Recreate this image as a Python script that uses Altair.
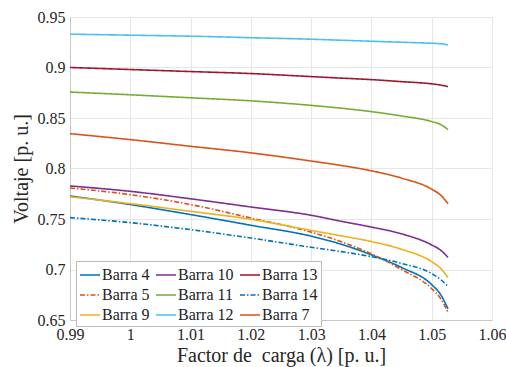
import altair as alt
import pandas as pd

lam = [0.99, 1.00, 1.01, 1.02, 1.03, 1.035, 1.04, 1.045, 1.05, 1.0515, 1.0527]

barra4 = [0.7728, 0.7643, 0.7544, 0.7438, 0.733, 0.725, 0.7145, 0.702, 0.685, 0.675, 0.661]
barra10 = [0.7827, 0.7774, 0.770, 0.7619, 0.7537, 0.7477, 0.742, 0.7353, 0.7243, 0.719, 0.712]
barra13 = [0.900, 0.898, 0.896, 0.894, 0.891, 0.8895, 0.888, 0.886, 0.8838, 0.8826, 0.881]
barra5 = [0.7807, 0.7741, 0.7643, 0.751, 0.737, 0.7275, 0.7155, 0.700, 0.681, 0.671, 0.6577]
barra11 = [0.8757, 0.873, 0.870, 0.867, 0.8625, 0.8597, 0.8563, 0.852, 0.8465, 0.8435, 0.8385]
barra14 = [0.7514, 0.7464, 0.7395, 0.7312, 0.722, 0.7177, 0.7127, 0.706, 0.696, 0.690, 0.6833]
barra9 = [0.772, 0.7652, 0.7576, 0.7497, 0.7387, 0.7333, 0.7277, 0.720, 0.7077, 0.701, 0.692]
barra12 = [0.933, 0.932, 0.931, 0.9295, 0.928, 0.927, 0.926, 0.925, 0.924, 0.9235, 0.9225]
barra7 = [0.8345, 0.8286, 0.822, 0.8155, 0.8074, 0.803, 0.7977, 0.7905, 0.7795, 0.7735, 0.7652]

# legend is laid out column by column: columns (4,5,9), (10,11,12), (13,14,7)
names = ["Barra 4", "Barra 5", "Barra 9", "Barra 10", "Barra 11",
         "Barra 12", "Barra 13", "Barra 14", "Barra 7"]
series = [barra4, barra5, barra9, barra10, barra11, barra12, barra13, barra14, barra7]
colors = ["#0072BD", "#D95319", "#EDB120", "#7E2F8E", "#77AC30",
          "#4DBEEE", "#A2142F", "#0072BD", "#D95319"]
dashes = [[1, 0], [5, 2, 1.5, 2], [1, 0], [1, 0], [1, 0],
          [1, 0], [1, 0], [5, 2, 1.5, 2], [1, 0]]

rows = []
for n, s in zip(names, series):
    for x, y in zip(lam, s):
        rows.append({"lam": x, "v": y, "serie": n})
df = pd.DataFrame(rows)

FONT = "Liberation Serif"

chart = alt.Chart(df).mark_line(strokeWidth=1.6, interpolate="monotone", clip=True).encode(
    x=alt.X("lam:Q", scale=alt.Scale(domain=[0.99, 1.06], nice=False, zero=False),
            axis=alt.Axis(title="Factor de\u00a0 carga (λ) [p. u.]",
                          values=[0.99, 1.0, 1.01, 1.02, 1.03, 1.04, 1.05, 1.06],
                          labelFont=FONT, titleFont=FONT, labelFlush=False,
                          labelPadding=6,
                          labelExpr="datum.value == 1 ? '1' : format(datum.value, '.2~f')")),
    y=alt.Y("v:Q", scale=alt.Scale(domain=[0.65, 0.95], nice=False, zero=False),
            axis=alt.Axis(title="Voltaje [p. u.]",
                          values=[0.65, 0.7, 0.75, 0.8, 0.85, 0.9, 0.95],
                          labelFont=FONT, titleFont=FONT, labelFlush=False,
                          labelPadding=5,
                          labelExpr="format(datum.value, '.2~f')")),
    color=alt.Color("serie:N", scale=alt.Scale(domain=names, range=colors),
                    legend=alt.Legend(title=None, orient="none", legendX=6, legendY=244,
                                      columns=3, symbolType="stroke", symbolSize=400,
                                      symbolStrokeWidth=1.6, labelFont=FONT,
                                      labelFontSize=16, labelColor="#222",
                                      columnPadding=2, rowPadding=1,
                                      fillColor="white", strokeColor="#bbb",
                                      padding=3, labelOffset=1)),
    strokeDash=alt.StrokeDash("serie:N", scale=alt.Scale(domain=names, range=dashes),
                              legend=None),
).properties(
    width=422, height=303,
    autosize=alt.AutoSizeParams(type="none"),
    padding={"left": 70, "top": 17, "right": 14, "bottom": 47},
).configure_view(
    stroke="#c8c8c8", strokeWidth=1
).configure_axis(
    labelFontSize=16, titleFontSize=20,
    labelColor="#262626", titleColor="#262626", titleFontWeight="normal",
    grid=True, gridColor="#e6e6e6", domainColor="#c8c8c8", ticks=False
).configure_axisX(
    titlePadding=3
).configure_axisY(
    titlePadding=6
)

chart.save("out.html", embed_options={"renderer": "svg", "actions": False})
